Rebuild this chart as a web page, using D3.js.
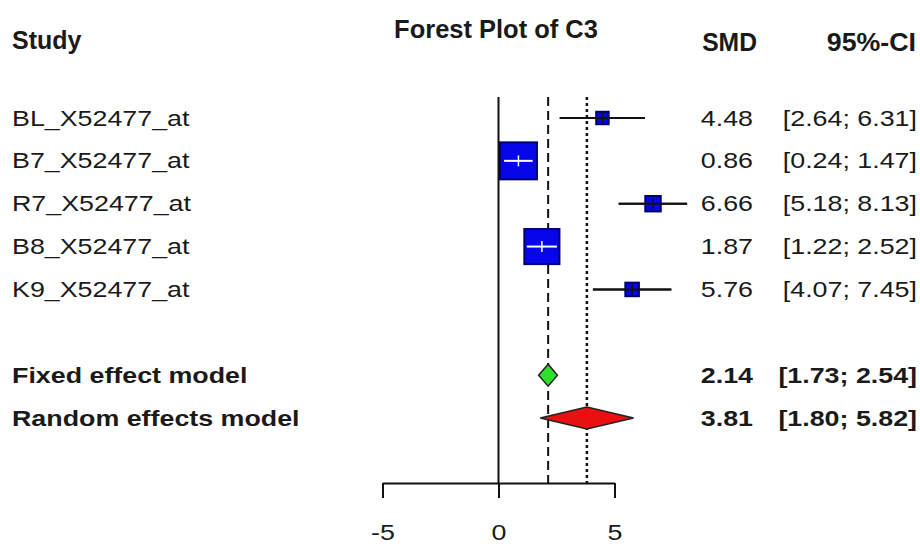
<!DOCTYPE html>
<html>
<head>
<meta charset="utf-8">
<script src="https://cdn.jsdelivr.net/npm/d3@7"></script>
<style>
  body { margin: 0; background: #fff; }
  svg { display: block; }
</style>
</head>
<body>
<svg id="chart" width="920" height="546"></svg>
<script>
// Study-level standardised mean differences with 95% confidence limits
const studies = ["BL_X52477_at", "B7_X52477_at", "R7_X52477_at", "B8_X52477_at", "K9_X52477_at"];
const smd     = [4.48, 0.86, 6.66, 1.87, 5.76];
const lower   = [2.64, 0.24, 5.18, 1.22, 4.07];
const upper   = [6.31, 1.47, 8.13, 2.52, 7.45];
const weight  = [4.9, 43.1, 7.5, 38.8, 5.8];   // fixed-effect weights (%)

// Pooled estimates
const models     = ["Fixed effect model", "Random effects model"];
const modelSmd   = [2.14, 3.81];
const modelLower = [1.73, 1.80];
const modelUpper = [2.54, 5.82];
const modelFill  = ["#2ee02e", "#e81010"];

const xTicks  = [-5, 0, 5];
const title   = "Forest Plot of C3";
const headers = ["Study", "SMD", "95%-CI"];

const svg = d3.select("#chart");
const FONT = "'Liberation Sans', Arial, sans-serif";
const SX = 1.22;           // horizontal stretch for body text
const fmt = d3.format(".2f");

const x = d3.scaleLinear().domain([-5, 5]).range([382.5, 614.5]);
// row slots: 0-4 studies, 5 blank, 6-7 pooled models
const y = d3.scaleLinear().domain([0, 7]).range([118, 418]);
const side = d3.scaleSqrt().domain([0, d3.max(weight)]).range([0, 37]);

const plotTop = 97, axisY = 483;

function txt(s, tx, ty, anchor, bold, size, sx) {
  return svg.append("text")
    .attr("transform", `translate(${tx},${ty}) scale(${sx || SX},1)`)
    .attr("text-anchor", anchor)
    .attr("dominant-baseline", "central")
    .style("font-family", FONT)
    .style("font-size", (size || 22) + "px")
    .style("font-weight", bold ? "bold" : "normal")
    .style("fill", "#1a1a1a")
    .text(s);
}

// headers (tall, slightly condensed)
txt(headers[0], 12, 40, "start", true, 26, 0.96);
txt(title, 496, 29, "middle", true, 26, 0.98);
txt(headers[1], 757, 42, "end", true, 26, 0.95);
txt(headers[2], 916, 42, "end", true, 26, 1.03);

// reference lines: no effect, fixed (dashed), random (dotted)
svg.append("line")
  .attr("x1", x(0)).attr("x2", x(0)).attr("y1", plotTop).attr("y2", axisY)
  .attr("stroke", "#111").attr("stroke-width", 2);
svg.append("line")
  .attr("x1", x(modelSmd[0])).attr("x2", x(modelSmd[0])).attr("y1", plotTop).attr("y2", axisY)
  .attr("stroke", "#111").attr("stroke-width", 2).attr("stroke-dasharray", "9,5");
svg.append("line")
  .attr("x1", x(modelSmd[1])).attr("x2", x(modelSmd[1])).attr("y1", plotTop).attr("y2", axisY)
  .attr("stroke", "#111").attr("stroke-width", 2.5).attr("stroke-dasharray", "3,3");

// study rows
studies.forEach((name, i) => {
  const cy = y(i), cx = x(smd[i]), s = side(weight[i]);
  const inside = x(lower[i]) >= cx - s / 2 && x(upper[i]) <= cx + s / 2;
  if (!inside) {
    svg.append("line")
      .attr("x1", x(lower[i])).attr("x2", x(upper[i])).attr("y1", cy).attr("y2", cy)
      .attr("stroke", "#111").attr("stroke-width", 2);
  }
  svg.append("rect")
    .attr("x", cx - s / 2).attr("y", cy - s / 2).attr("width", s).attr("height", s)
    .attr("fill", "#0606e8").attr("stroke", "#000070").attr("stroke-width", 2);
  const lc = inside ? "#ffffff" : "#111";
  svg.append("line")
    .attr("x1", x(lower[i])).attr("x2", x(upper[i])).attr("y1", cy).attr("y2", cy)
    .attr("stroke", lc).attr("stroke-width", 2);
  svg.append("line")
    .attr("x1", cx).attr("x2", cx).attr("y1", cy - 5.5).attr("y2", cy + 5.5)
    .attr("stroke", lc).attr("stroke-width", 1.5);

  txt(name, 12, cy, "start", false);
  txt(fmt(smd[i]), 753, cy, "end", false);
  txt(`[${fmt(lower[i])}; ${fmt(upper[i])}]`, 917, cy, "end", false);
});

// pooled diamonds
models.forEach((name, j) => {
  const cy = y(6 + j), h = 22;
  const pts = [
    [x(modelLower[j]), cy], [x(modelSmd[j]), cy - h / 2],
    [x(modelUpper[j]), cy], [x(modelSmd[j]), cy + h / 2]
  ];
  svg.append("polygon")
    .attr("points", pts.map(p => p.join(",")).join(" "))
    .attr("fill", modelFill[j]).attr("stroke", "#222").attr("stroke-width", 1.5);

  txt(name, 12, cy, "start", true);
  txt(fmt(modelSmd[j]), 753, cy, "end", true);
  txt(`[${fmt(modelLower[j])}; ${fmt(modelUpper[j])}]`, 917, cy, "end", true);
});

// x axis
const axis = svg.append("g")
  .attr("transform", `translate(0,${axisY})`)
  .call(d3.axisBottom(x).tickValues(xTicks).tickSize(15).tickSizeOuter(0)
    .tickFormat(d => String(d)));
axis.select(".domain").attr("stroke", "#111").attr("stroke-width", 2);
axis.selectAll(".tick line").attr("stroke", "#111").attr("stroke-width", 2);
axis.selectAll(".tick text")
  .attr("y", 49).attr("dy", "0.35em")
  .attr("transform", `scale(${SX},1)`)
  .style("font-family", FONT).style("font-size", "22px").style("fill", "#1a1a1a");
</script>
</body>
</html>
